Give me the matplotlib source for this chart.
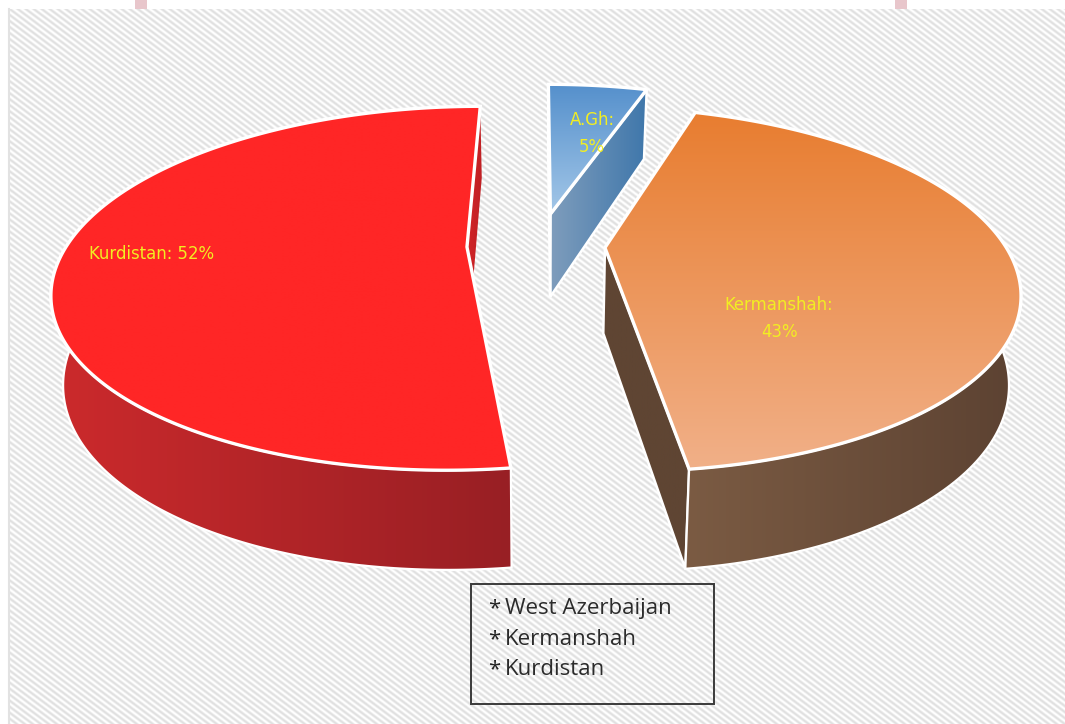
import numpy as np
import matplotlib
matplotlib.use("Agg")
import matplotlib.pyplot as plt
from matplotlib.patches import Polygon, Rectangle
from matplotlib.colors import to_rgb

categories = ["A.Gh", "Kermanshah", "Kurdistan"]
values = [5, 43, 52]
legend_names = ["West Azerbaijan", "Kermanshah", "Kurdistan"]

W, H = 1065, 724
CX, CY, AX_U, AX_V, K = 539, 245, 400, 171.7, 0.2265
explode = [0.19, 0.165, 0.18]

top_grad = [("#5590CC", "#A3C7E8"), ("#E87D30", "#F1B088"), ("#FF2626", "#FF2626")]
band_grad = [("#7C99B8", "#3E76AA"), ("#7B5B43", "#5C4232"), ("#CC2A2C", "#981F24")]
radial_col = [("#7F9DBC", "#3F77AB"), ("#5F4533", "#5F4533"), ("#D22428", "#C02024")]
label_pos = [(592, 133.5), (779, 318.5), (152, 254)]
label_text = ["A.Gh:\n5%", "Kermanshah:\n43%", "Kurdistan: 52%"]

fig = plt.figure(figsize=(W / 100, H / 100), dpi=100)
ax = fig.add_axes([0, 0, 1, 1])
ax.set_xlim(0, W)
ax.set_ylim(H, 0)
ax.axis("off")


def project(u, v, lower=False):
    w = 1 + K * v
    x = CX + AX_U * u / w
    y = CY - AX_V * v / w
    if lower:
        x = CX + (x - CX) * 0.975
        y = y + 85.5 - 14 * v
    return np.column_stack([x, y])


def gradient(poly, c0, c1, vertical, z):
    a, b = np.array(to_rgb(c0)), np.array(to_rgb(c1))
    t = np.linspace(0, 1, 128)[:, None]
    col = a + (b - a) * t
    img = col[:, None, :] if vertical else col[None, :, :]
    x0, y0 = poly.min(axis=0)
    x1, y1 = poly.max(axis=0)
    im = ax.imshow(img, extent=[x0, x1, y1, y0], aspect="auto", zorder=z,
                   interpolation="bilinear")
    im.set_clip_path(Polygon(poly, transform=ax.transData))


# page and hatched panel
yy, xx = np.mgrid[0:H, 0:W]
stripe = 0.5 + 0.5 * np.sin(2 * np.pi * (xx - 1.33 * yy) / 8.0)
shade = 0.875 + 0.125 * stripe
ax.imshow(shade, cmap="gray", vmin=0, vmax=1, extent=[0, W, H, 0], aspect="auto",
          zorder=0, interpolation="bilinear")
ax.add_patch(Rectangle((0, 0), W, 9, fc="white", ec="none", zorder=0.5))
ax.add_patch(Rectangle((0, 0), 8, H, fc="white", ec="none", zorder=0.5))
ax.plot([8.5, 8.5], [9, H], color="#E2E2E2", lw=1.5, zorder=0.6)
for xm in (135, 895):
    ax.add_patch(Rectangle((xm, 0), 12, 9, fc="#E8C6CB", ec="none", zorder=0.6))

# slices, from the values
fr = np.array(values) / sum(values)
edges = np.concatenate([[0], np.cumsum(fr)]) * 2 * np.pi
for i in range(len(values)):
    t0, t1 = edges[i], edges[i + 1]
    mid = (t0 + t1) / 2
    eu, ev = explode[i] * np.sin(mid), explode[i] * np.cos(mid)
    t = np.linspace(t0, t1, 240)
    u, v = eu + np.sin(t), ev + np.cos(t)
    z = 2 + i

    # radial walls: the first one unoutlined, behind everything else
    for n, th in enumerate((t0, t1)):
        pts_u = np.array([eu, eu + np.sin(th)])
        pts_v = np.array([ev, ev + np.cos(th)])
        wall = np.vstack([project(pts_u, pts_v), project(pts_u, pts_v, lower=True)[::-1]])
        gradient(wall, radial_col[i][0], radial_col[i][1], False, z + .1 * n)
        if n == 1 and i != 2 or (i == 0):
            ax.add_patch(Polygon(wall, closed=True, fc="none", ec="white", lw=1.8,
                                 zorder=z + .15))

    # outer wall: only the part that faces the viewer
    m = np.cos(t) < 0.05
    if m.any():
        up = project(u[m], v[m])
        lo = project(u[m], v[m], lower=True)
        band = np.vstack([up, lo[::-1]])
        gradient(band, band_grad[i][0], band_grad[i][1], False, z + .2)
        ax.add_patch(Polygon(band, closed=True, fc="none", ec="white", lw=1.6, zorder=z + .3))

    # top face
    top = np.vstack([project(np.array([eu]), np.array([ev])), project(u, v)])
    gradient(top, top_grad[i][0], top_grad[i][1], True, z + .4)
    ax.add_patch(Polygon(top, closed=True, fc="none", ec="white", lw=2.4, zorder=z + .5))

for (x, y), s in zip(label_pos, label_text):
    ax.text(x, y, s, color="#F2EE22", fontsize=11.9, ha="center", va="center",
            linespacing=1.6, zorder=10, family="DejaVu Sans")

# text box
ax.add_patch(Rectangle((470.5, 583.5), 243, 120, fc="none", ec="#3A3A3A", lw=1.4, zorder=9))
for yt, name in zip((614, 645, 675), legend_names):
    ax.text(488, yt, "*", fontsize=16, color="#222222", ha="left", va="baseline", zorder=10,
            family="Open Sans")
    ax.text(505, yt, name, fontsize=16, color="#2B2B2B", ha="left", va="baseline", zorder=10,
            family="Open Sans")

fig.savefig("out.png", dpi=100)
